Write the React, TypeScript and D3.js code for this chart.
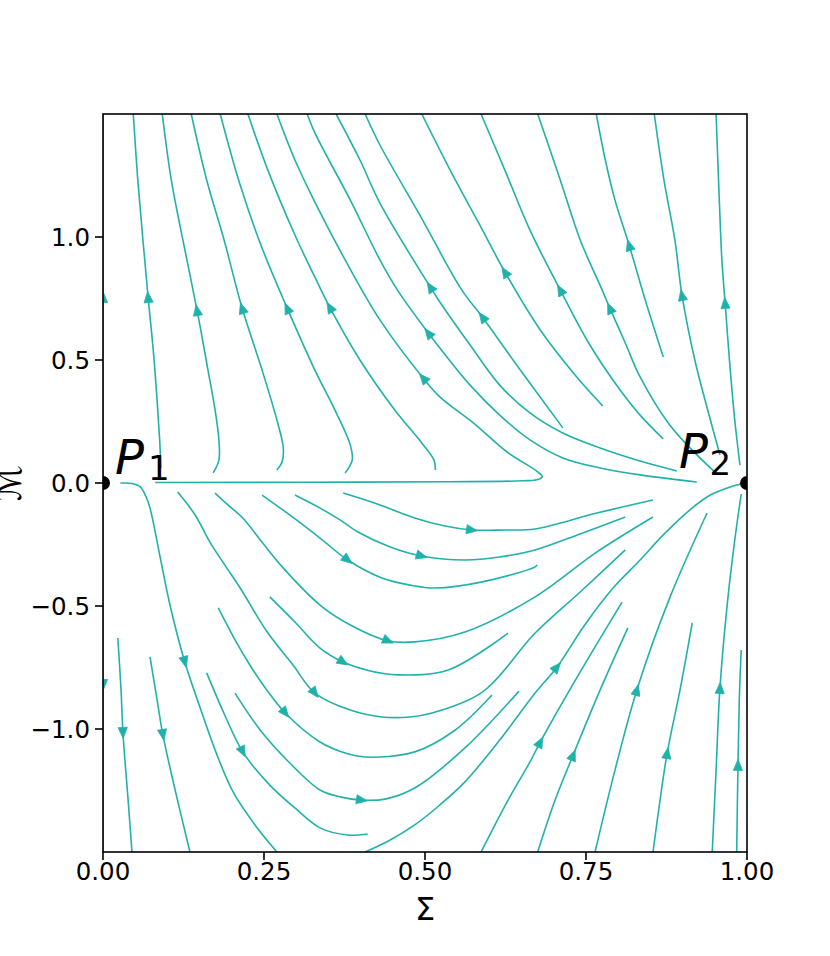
import React from 'react';
import * as d3 from 'd3';

type Pt = [number, number];

// Axis ticks
const SIGMA_TICKS = [0, 0.25, 0.5, 0.75, 1];
const M_TICKS = [-1, -0.5, 0, 0.5, 1];

// Fixed points
const FIXED_POINTS = [
  { label: 'P', sub: '1', s: 0, m: 0 },
  { label: 'P', sub: '2', s: 1, m: 0 },
];

// Streamlines (Σ, M), each in flow order
const upA: Pt[] = [[0.090, 0.06], [0.088, 0.175], [0.084, 0.337], [0.078, 0.541], [0.070, 0.756], [0.062, 0.988], [0.054, 1.232], [0.047, 1.5]];
const upB: Pt[] = [[0.171, 0.041], [0.180, 0.093], [0.180, 0.175], [0.174, 0.297], [0.163, 0.459], [0.146, 0.703], [0.124, 0.988], [0.106, 1.232], [0.092, 1.5]];
const upC: Pt[] = [[0.270, 0.053], [0.278, 0.085], [0.280, 0.142], [0.270, 0.256], [0.247, 0.459], [0.216, 0.711], [0.188, 0.988], [0.161, 1.232], [0.137, 1.5]];
const upD: Pt[] = [[0.376, 0.041], [0.387, 0.093], [0.384, 0.154], [0.360, 0.297], [0.329, 0.459], [0.286, 0.711], [0.247, 0.955], [0.213, 1.211], [0.182, 1.5]];
const upE: Pt[] = [[0.516, 0.053], [0.514, 0.093], [0.495, 0.163], [0.453, 0.297], [0.399, 0.5], [0.352, 0.715], [0.329, 0.837], [0.298, 1.008], [0.256, 1.272], [0.225, 1.5]];
const upF: Pt[] = [[0.081, 0.002], [0.306, 0.003], [0.539, 0.005], [0.652, 0.009], [0.675, 0.014], [0.682, 0.026], [0.674, 0.047], [0.627, 0.127], [0.575, 0.244], [0.523, 0.350], [0.497, 0.427], [0.430, 0.663], [0.376, 0.907], [0.329, 1.142], [0.298, 1.313], [0.270, 1.5]];
const upG: Pt[] = [[0.922, 0.004], [0.834, 0.033], [0.772, 0.061], [0.714, 0.102], [0.663, 0.175], [0.616, 0.276], [0.570, 0.398], [0.523, 0.549], [0.505, 0.610], [0.457, 0.785], [0.430, 0.907], [0.384, 1.150], [0.329, 1.423], [0.317, 1.5]];
const upH: Pt[] = [[0.891, 0.049], [0.834, 0.089], [0.772, 0.142], [0.714, 0.203], [0.663, 0.285], [0.616, 0.398], [0.570, 0.561], [0.523, 0.736], [0.508, 0.797], [0.430, 1.138], [0.399, 1.313], [0.362, 1.5]];
const upI: Pt[] = [[0.714, 0.224], [0.648, 0.459], [0.589, 0.675], [0.557, 0.785], [0.492, 1.089], [0.430, 1.374], [0.407, 1.5]];
const upJ: Pt[] = [[0.776, 0.313], [0.733, 0.439], [0.679, 0.622], [0.624, 0.858], [0.585, 1.049], [0.539, 1.272], [0.495, 1.5]];
const upK: Pt[] = [[0.870, 0.179], [0.834, 0.276], [0.803, 0.378], [0.756, 0.561], [0.710, 0.785], [0.663, 1.028], [0.624, 1.272], [0.587, 1.5]];
const upL: Pt[] = [[0.950, 0.045], [0.927, 0.102], [0.880, 0.236], [0.834, 0.431], [0.811, 0.569], [0.787, 0.711], [0.775, 0.785], [0.741, 0.988], [0.710, 1.232], [0.675, 1.5]];
const upM: Pt[] = [[0.870, 0.512], [0.842, 0.744], [0.817, 0.967], [0.795, 1.150], [0.780, 1.313], [0.766, 1.5]];
const upN: Pt[] = [[0.958, 0.114], [0.939, 0.297], [0.919, 0.5], [0.899, 0.764], [0.888, 0.988], [0.871, 1.232], [0.856, 1.5]];
const upO: Pt[] = [[0.989, 0.073], [0.981, 0.256], [0.974, 0.459], [0.966, 0.732], [0.961, 0.907], [0.957, 1.150], [0.952, 1.5]];
const edgeUp: Pt[] = [[0, 0.02], [0, 1.5]];

const lowP1: Pt[] = [[0.027, 0], [0.045, -0.002], [0.058, -0.016], [0.067, -0.057], [0.073, -0.102], [0.089, -0.305], [0.104, -0.496], [0.127, -0.728], [0.151, -0.915], [0.174, -1.085], [0.202, -1.256], [0.236, -1.390], [0.270, -1.5]];
const lowV1: Pt[] = [[0.023, -0.630], [0.028, -0.841], [0.031, -1.016], [0.039, -1.289], [0.045, -1.5]];
const lowV2: Pt[] = [[0.073, -0.707], [0.084, -0.882], [0.093, -1.024], [0.112, -1.248], [0.135, -1.5]];
const lowA: Pt[] = [[0.161, -0.772], [0.189, -0.943], [0.217, -1.093], [0.259, -1.228], [0.298, -1.321], [0.337, -1.402], [0.380, -1.431], [0.411, -1.427]];
const lowB: Pt[] = [[0.205, -0.854], [0.244, -1.004], [0.290, -1.138], [0.337, -1.248], [0.368, -1.276], [0.402, -1.289], [0.438, -1.285], [0.484, -1.240], [0.562, -1.077], [0.646, -0.846]];
const lowC: Pt[] = [[0.179, -0.508], [0.205, -0.638], [0.228, -0.740], [0.252, -0.833], [0.283, -0.935], [0.337, -1.053], [0.376, -1.098], [0.407, -1.114], [0.484, -1.093], [0.547, -1.004], [0.604, -0.862]];
const lowD: Pt[] = [[0.116, -0.037], [0.143, -0.130], [0.166, -0.240], [0.189, -0.333], [0.213, -0.427], [0.255, -0.606], [0.295, -0.740], [0.329, -0.854], [0.384, -0.923], [0.433, -0.951], [0.477, -0.951], [0.511, -0.935], [0.589, -0.850], [0.671, -0.610], [0.741, -0.443], [0.811, -0.272]];
const lowE: Pt[] = [[0.174, -0.041], [0.194, -0.089], [0.217, -0.142], [0.248, -0.244], [0.280, -0.346], [0.337, -0.496], [0.384, -0.577], [0.443, -0.642], [0.484, -0.646], [0.562, -0.606], [0.671, -0.463], [0.767, -0.280], [0.854, -0.138]];
const lowF: Pt[] = [[0.259, -0.463], [0.298, -0.565], [0.337, -0.671], [0.373, -0.728], [0.415, -0.764], [0.458, -0.780], [0.536, -0.760], [0.629, -0.610]];
const lowG: Pt[] = [[0.247, -0.049], [0.290, -0.130], [0.337, -0.224], [0.380, -0.313], [0.433, -0.386], [0.477, -0.415], [0.516, -0.427], [0.589, -0.402], [0.671, -0.341], [0.674, -0.333]];
const lowH: Pt[] = [[0.298, -0.049], [0.337, -0.102], [0.368, -0.150], [0.396, -0.199], [0.446, -0.260], [0.495, -0.297], [0.562, -0.313], [0.616, -0.301], [0.671, -0.272], [0.741, -0.207], [0.811, -0.138]];
const lowI: Pt[] = [[0.373, -0.041], [0.430, -0.089], [0.484, -0.142], [0.531, -0.175], [0.573, -0.191], [0.624, -0.191], [0.671, -0.187], [0.767, -0.122], [0.854, -0.069]];
const lowJ: Pt[] = [[0.407, -1.5], [0.446, -1.451], [0.484, -1.390], [0.523, -1.309], [0.562, -1.215], [0.616, -1.045], [0.671, -0.854], [0.705, -0.748], [0.748, -0.577], [0.792, -0.427], [0.834, -0.313], [0.870, -0.211], [0.911, -0.110], [0.943, -0.049], [0.974, -0.016], [0.997, 0]];
const lowK: Pt[] = [[0.587, -1.5], [0.629, -1.289], [0.663, -1.134], [0.679, -1.053], [0.741, -0.768], [0.806, -0.484]];
const lowL: Pt[] = [[0.675, -1.5], [0.702, -1.289], [0.730, -1.106], [0.772, -0.841], [0.815, -0.589]];
const lowM: Pt[] = [[0.764, -1.5], [0.795, -1.167], [0.829, -0.841], [0.880, -0.467], [0.938, -0.122]];
const lowN: Pt[] = [[0.854, -1.5], [0.865, -1.289], [0.876, -1.098], [0.896, -0.841], [0.915, -0.569]];
const lowO: Pt[] = [[0.946, -1.5], [0.952, -1.167], [0.958, -0.833], [0.970, -0.476], [0.981, -0.232], [0.991, -0.045]];
const lowP: Pt[] = [[0.984, -1.5], [0.986, -1.146], [0.988, -0.882], [0.991, -0.679]];
const edgeLow: Pt[] = [[0, -0.02], [0, -1.5]];

const STREAMLINES: { pts: Pt[]; arrow: Pt }[] = [
  { pts: upA, arrow: [0.070, 0.756] },
  { pts: upB, arrow: [0.146, 0.703] },
  { pts: upC, arrow: [0.216, 0.711] },
  { pts: upD, arrow: [0.286, 0.711] },
  { pts: upE, arrow: [0.352, 0.715] },
  { pts: upF, arrow: [0.497, 0.427] },
  { pts: upG, arrow: [0.505, 0.610] },
  { pts: upH, arrow: [0.508, 0.797] },
  { pts: upI, arrow: [0.589, 0.675] },
  { pts: upJ, arrow: [0.624, 0.858] },
  { pts: upK, arrow: [0.710, 0.785] },
  { pts: upL, arrow: [0.787, 0.711] },
  { pts: upM, arrow: [0.817, 0.967] },
  { pts: upN, arrow: [0.899, 0.764] },
  { pts: upO, arrow: [0.966, 0.732] },
  { pts: edgeUp, arrow: [0, 0.756] },
  { pts: lowP1, arrow: [0.127, -0.728] },
  { pts: lowV1, arrow: [0.031, -1.016] },
  { pts: lowV2, arrow: [0.093, -1.024] },
  { pts: lowA, arrow: [0.217, -1.093] },
  { pts: lowB, arrow: [0.402, -1.289] },
  { pts: lowC, arrow: [0.283, -0.935] },
  { pts: lowD, arrow: [0.329, -0.854] },
  { pts: lowE, arrow: [0.443, -0.642] },
  { pts: lowF, arrow: [0.373, -0.728] },
  { pts: lowG, arrow: [0.380, -0.313] },
  { pts: lowH, arrow: [0.495, -0.297] },
  { pts: lowI, arrow: [0.573, -0.191] },
  { pts: lowJ, arrow: [0.705, -0.748] },
  { pts: lowK, arrow: [0.679, -1.053] },
  { pts: lowL, arrow: [0.730, -1.106] },
  { pts: lowM, arrow: [0.829, -0.841] },
  { pts: lowN, arrow: [0.876, -1.098] },
  { pts: lowO, arrow: [0.958, -0.833] },
  { pts: lowP, arrow: [0.986, -1.146] },
  { pts: edgeLow, arrow: [0, -0.821] },
];

const COLOR = '#20b2aa';
const FONT = 'DejaVu Sans, sans-serif';

export default function App() {
  const W = 830, H = 956;
  const left = 103, right = 747, top = 114, bottom = 852;
  const x = d3.scaleLinear().domain([0, 1]).range([left, right]);
  const y = d3.scaleLinear().domain([-1.5, 1.5]).range([bottom, top]);
  const line = d3.line<Pt>().x(d => x(d[0])).y(d => y(d[1])).curve(d3.curveCatmullRom.alpha(0.5));

  const arrowPath = (pts: Pt[], a: Pt) => {
    const sp = pts.map(p => [x(p[0]), y(p[1])]);
    const ax = x(a[0]), ay = y(a[1]);
    let best = 0, bd = Infinity;
    for (let i = 0; i < sp.length - 1; i++) {
      const [x1, y1] = sp[i], [x2, y2] = sp[i + 1];
      const dx = x2 - x1, dy = y2 - y1;
      const l2 = dx * dx + dy * dy || 1;
      let t = ((ax - x1) * dx + (ay - y1) * dy) / l2;
      t = Math.max(0, Math.min(1, t));
      const px = x1 + t * dx, py = y1 + t * dy;
      const d = (px - ax) ** 2 + (py - ay) ** 2;
      if (d < bd) { bd = d; best = i; }
    }
    const [x1, y1] = sp[best], [x2, y2] = sp[best + 1];
    let dx = x2 - x1, dy = y2 - y1;
    const n = Math.hypot(dx, dy) || 1;
    dx /= n; dy /= n;
    const L = 11, hw = 4.6;
    const tip = [ax + dx * L / 2, ay + dy * L / 2];
    const bx = ax - dx * L / 2, by = ay - dy * L / 2;
    const c1 = [bx - dy * hw, by + dx * hw];
    const c2 = [bx + dy * hw, by - dx * hw];
    return `M${tip[0]},${tip[1]}L${c1[0]},${c1[1]}L${c2[0]},${c2[1]}Z`;
  };

  const fmtX = d3.format('.2f');
  const fmtY = (v: number) => d3.format('.1f')(v).replace('-', '\u2212');

  return (
    <svg width={W} height={H} style={{ position: 'absolute', left: 0, top: 0, background: '#fff' }}>
      <defs>
        <clipPath id="plot">
          <rect x={left} y={top} width={right - left} height={bottom - top} />
        </clipPath>
      </defs>
      <g clipPath="url(#plot)">
        {STREAMLINES.map((s, i) => (
          <path key={'l' + i} d={line(s.pts) || ''} fill="none" stroke={COLOR} strokeWidth={1.6} />
        ))}
        {STREAMLINES.map((s, i) => (
          <path key={'a' + i} d={arrowPath(s.pts, s.arrow)} fill={COLOR} stroke={COLOR} strokeWidth={0.8} />
        ))}
      </g>
      <rect x={left} y={top} width={right - left} height={bottom - top} fill="none" stroke="#000" strokeWidth={1.6} />
      {SIGMA_TICKS.map(t => (
        <g key={'xt' + t}>
          <line x1={x(t)} x2={x(t)} y1={bottom} y2={bottom + 8} stroke="#000" strokeWidth={1.6} />
          <text x={x(t)} y={bottom + 28} textAnchor="middle" fontFamily={FONT} fontSize={24.5}>{fmtX(t)}</text>
        </g>
      ))}
      {M_TICKS.map(t => (
        <g key={'yt' + t}>
          <line x1={left - 8} x2={left} y1={y(t)} y2={y(t)} stroke="#000" strokeWidth={1.6} />
          <text x={left - 13} y={y(t)} dy="0.36em" textAnchor="end" fontFamily={FONT} fontSize={24.5}>{fmtY(t)}</text>
        </g>
      ))}
      <text x={(left + right) / 2} y={920} textAnchor="middle" fontFamily={FONT} fontSize={32}>Σ</text>
      <text transform={`translate(21,${y(0)}) rotate(-90)`} textAnchor="middle" fontFamily={FONT} fontSize={34}>ℳ</text>
      <g clipPath="url(#plot)">
        {FIXED_POINTS.map(p => (
          <circle key={'fp' + p.sub} cx={x(p.s)} cy={y(p.m)} r={7} fill="#000" />
        ))}
      </g>
      {FIXED_POINTS.map(p => (
        <text key={'fl' + p.sub} x={p.s === 0 ? x(p.s) + 12 : x(p.s) - 68} y={p.s === 0 ? y(p.m) - 9 : y(p.m) - 15} fontFamily={FONT} fontSize={48}>
          <tspan fontStyle="italic">{p.label}</tspan>
          <tspan fontSize={34} dx={p.s === 0 ? 4 : 1.5} dy={p.s === 0 ? 6 : 7}>{p.sub}</tspan>
        </text>
      ))}
    </svg>
  );
}
